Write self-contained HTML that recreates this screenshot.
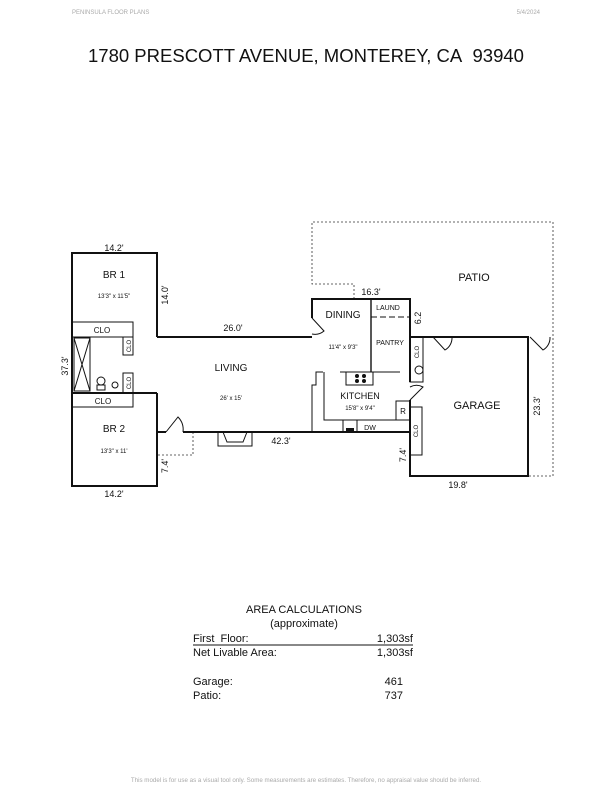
<!DOCTYPE html>
<html><head><meta charset="utf-8"><style>
html,body{margin:0;padding:0;background:#fff;}
body{width:612px;height:792px;position:relative;overflow:hidden;font-family:"Liberation Sans",Arial,sans-serif;}
</style></head><body>
<svg width="612" height="792" viewBox="0 0 612 792" xmlns="http://www.w3.org/2000/svg" font-family="Liberation Sans, Arial, sans-serif">
<text x="72" y="14" font-size="6" fill="#aaa">PENINSULA FLOOR PLANS</text>
<text x="540" y="14" font-size="6" fill="#aaa" text-anchor="end">5/4/2024</text>
<text x="306" y="62" font-size="18.5" text-anchor="middle" fill="#111">1780 PRESCOTT AVENUE, MONTEREY, CA&#160; 93940</text>

<g fill="none" stroke="#333" stroke-width="0.8" stroke-dasharray="2,2">
<polyline points="354,299 354,284 312,284 312,222 553,222 553,476 528,476"/>
<polyline points="193,432 193,455 157,455"/>
</g>

<g fill="none" stroke="#111" stroke-width="2">
<polyline points="157,337 157,253 72,253 72,486 157,486 157,393"/>
<line x1="72" y1="393" x2="157" y2="393"/>
<line x1="157" y1="337" x2="312" y2="337"/>
<line x1="157" y1="432" x2="166" y2="432"/>
<line x1="183" y1="432" x2="410" y2="432"/>
<polyline points="312,318 312,299 410,299 410,372"/>
<line x1="371" y1="299" x2="371" y2="372" stroke-width="1.4"/>
<polyline points="410,337 528,337 528,476 410,476 410,400"/>
<line x1="410" y1="372" x2="410" y2="382"/>
</g>

<g fill="none" stroke="#111" stroke-width="1">
<line x1="371" y1="317" x2="410" y2="317" stroke-dasharray="6,3"/>
<rect x="72" y="322" width="61" height="15"/>
<rect x="72" y="393" width="61" height="14"/>
<rect x="123" y="337" width="10" height="18"/>
<rect x="123" y="373" width="10" height="20"/>
<rect x="74" y="338" width="16" height="53"/>
<path d="M74,338 L90,391 M90,338 L74,391"/>
<circle cx="101" cy="381" r="4"/><rect x="97" y="385" width="8" height="5"/>
<circle cx="115" cy="385" r="3"/>
<path d="M166,432 L178,417 A18,18 0 0 1 183,432"/>
<rect x="218" y="432" width="34" height="14"/>
<path d="M223,432 L227,442 L243,442 L247,432"/>
<path d="M312,318 L324,331 A14,14 0 0 1 312,334"/>
<polyline points="312,432 312,385 316,385 316,372 323,372"/>
<polyline points="324,372 324,420 410,420"/>
<line x1="340" y1="372" x2="400" y2="372"/>
<rect x="346" y="372" width="27" height="13"/>
<rect x="396" y="401" width="14" height="19"/>
<rect x="343" y="420" width="14" height="12"/>
<rect x="410" y="337" width="13" height="45"/>
<circle cx="419" cy="370" r="4"/>
<rect x="410" y="407" width="12" height="48"/>
<path d="M410,400 L423,387 A14,14 0 0 0 410,387"/>
<path d="M433,337 L445,350 A14,14 0 0 0 452,337"/>
<path d="M530,337 L543,350 A14,14 0 0 0 550,337"/>
</g>
<g fill="#111">
<circle cx="357" cy="376" r="2"/><circle cx="364" cy="376" r="2"/><circle cx="357" cy="381" r="2"/><circle cx="364" cy="381" r="2"/>
<rect x="346" y="428" width="8" height="4"/>
</g>

<g fill="#111" text-anchor="middle">
<text x="114" y="251" font-size="9">14.2'</text>
<text x="114" y="278" font-size="10">BR 1</text>
<text x="114" y="298" font-size="6">13'3" x 11'5"</text>
<text x="102" y="333" font-size="8">CLO</text>
<text x="103" y="404" font-size="8">CLO</text>
<text x="114" y="432" font-size="10">BR 2</text>
<text x="114" y="453" font-size="6">13'3" x 11'</text>
<text x="114" y="497" font-size="9">14.2'</text>
<text x="233" y="331" font-size="9">26.0'</text>
<text x="231" y="371" font-size="10">LIVING</text>
<text x="231" y="400" font-size="6">26' x 15'</text>
<text x="281" y="444" font-size="9">42.3'</text>
<text x="343" y="318" font-size="10">DINING</text>
<text x="343" y="349" font-size="6">11'4" x 9'3"</text>
<text x="388" y="310" font-size="7">LAUND</text>
<text x="390" y="345" font-size="7">PANTRY</text>
<text x="371" y="295" font-size="9">16.3'</text>
<text x="360" y="399" font-size="9">KITCHEN</text>
<text x="360" y="410" font-size="6">15'8" x 9'4"</text>
<text x="403" y="414" font-size="8">R</text>
<text x="370" y="430" font-size="7">DW</text>
<text x="474" y="281" font-size="11">PATIO</text>
<text x="477" y="409" font-size="11">GARAGE</text>
<text x="458" y="488" font-size="9">19.8'</text>
<text transform="translate(168,295) rotate(-90)" font-size="9">14.0'</text>
<text transform="translate(68,366) rotate(-90)" font-size="9">37.3'</text>
<text transform="translate(168,466) rotate(-90)" font-size="9">7.4'</text>
<text transform="translate(131,346) rotate(-90)" font-size="6">CLO</text>
<text transform="translate(131,383) rotate(-90)" font-size="6">CLO</text>
<text transform="translate(421,318) rotate(-90)" font-size="9">6.2</text>
<text transform="translate(419,352) rotate(-90)" font-size="6">CLO</text>
<text transform="translate(418,431) rotate(-90)" font-size="6">CLO</text>
<text transform="translate(406,455) rotate(-90)" font-size="9">7.4'</text>
<text transform="translate(540,406) rotate(-90)" font-size="9">23.3'</text>
</g>

<g fill="#111" font-size="11">
<text x="304" y="613" text-anchor="middle">AREA CALCULATIONS</text>
<text x="304" y="627" text-anchor="middle">(approximate)</text>
<text x="193" y="642" xml:space="preserve">First  Floor:</text>
<text x="413" y="642" text-anchor="end">1,303sf</text>
<line x1="193" y1="645" x2="413" y2="645" stroke="#111" stroke-width="1"/>
<text x="193" y="656">Net Livable Area:</text>
<text x="413" y="656" text-anchor="end">1,303sf</text>
<text x="193" y="685">Garage:</text>
<text x="403" y="685" text-anchor="end">461</text>
<text x="193" y="699">Patio:</text>
<text x="403" y="699" text-anchor="end">737</text>
</g>
<text x="306" y="782" font-size="6.2" fill="#aaa" text-anchor="middle">This model is for use as a visual tool only. Some measurements are estimates. Therefore, no appraisal value should be inferred.</text>
</svg>
</body></html>
